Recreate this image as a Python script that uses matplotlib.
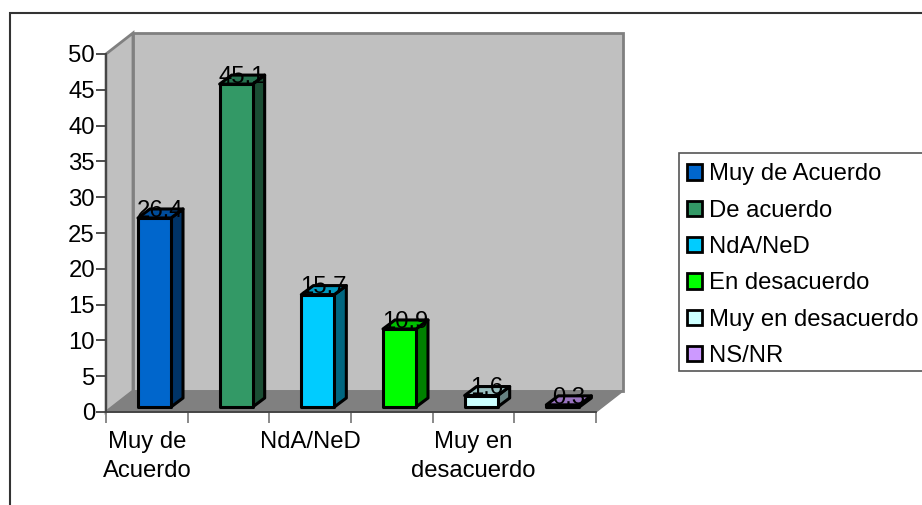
import matplotlib
matplotlib.use('Agg')
import matplotlib.pyplot as plt
from matplotlib.patches import Patch, Polygon, Rectangle

categories = ['Muy de Acuerdo', 'De acuerdo', 'NdA/NeD', 'En desacuerdo', 'Muy en desacuerdo', 'NS/NR']
values = [26.4, 45.1, 15.7, 10.9, 1.6, 0.3]
front_colors = ['#0066CC', '#339966', '#00CCFF', '#00FF00', '#CCFFFF', '#CC99FF']
side_colors = ['#003366', '#1A4D33', '#006680', '#008000', '#668080', '#664C80']
top_colors = ['#004C99', '#267350', '#0099BF', '#00BF00', '#99BFBF', '#9973BF']
y_ticks = [0, 5, 10, 15, 20, 25, 30, 35, 40, 45, 50]
x_labels = ['Muy de\nAcuerdo', 'NdA/NeD', 'Muy en\ndesacuerdo']
x_label_pos = [0.5, 2.5, 4.5]

W, H = 922, 505
plt.rcParams['font.family'] = ['Liberation Sans', 'DejaVu Sans']
FS = 17.2

fig = plt.figure(figsize=(W / 100, H / 100), dpi=100)
fig.patches.append(Rectangle((10 / W, -0.02), 1.02, (H - 13) / H + 0.02, transform=fig.transFigure,
                             facecolor='white', edgecolor='#333333', linewidth=1.5, zorder=-1))
# legend box, runs off the right edge like the original
fig.patches.append(Rectangle((679 / W, 1 - 371 / H), 0.3, 218 / H, transform=fig.transFigure,
                             facecolor='white', edgecolor='#555555', linewidth=1.2, zorder=-0.5))

# front plane of the 3d box
left, right, top, bottom = 106, 596, 54, 412
ax = fig.add_axes([left / W, 1 - bottom / H, (right - left) / W, (bottom - top) / H])
ax.patch.set_visible(False)
ax.set_xlim(0, 6)
ax.set_ylim(0, 50)
for s in ['top', 'right']:
    ax.spines[s].set_visible(False)
for s in ['left', 'bottom']:
    ax.spines[s].set_color('#404040')
    ax.spines[s].set_linewidth(1.3)
    ax.spines[s].set_zorder(6)

px_x = 6 / (right - left)
px_y = 50 / (bottom - top)
ddx, ddy = 27 * px_x, 21 * px_y

# walls and floor
ax.add_patch(Polygon([(0, 0), (ddx, ddy), (ddx, 50 + ddy), (0, 50)], closed=True, clip_on=False,
                     facecolor='#C0C0C0', edgecolor='#808080', linewidth=2, zorder=1))
ax.add_patch(Polygon([(ddx, ddy), (6 + ddx, ddy), (6 + ddx, 50 + ddy), (ddx, 50 + ddy)], closed=True, clip_on=False,
                     facecolor='#C0C0C0', edgecolor='#808080', linewidth=2, zorder=1))
ax.add_patch(Polygon([(0, 0), (6, 0), (6 + ddx, ddy), (ddx, ddy)], closed=True, clip_on=False,
                     facecolor='#808080', edgecolor='#808080', linewidth=1, zorder=2))

# bars
bar_x0 = 32 * px_x
bar_w = 33 * px_x
base = 5 * px_y
bdx, bdy = 12 * px_x, 9 * px_y
for i, v in enumerate(values):
    x0 = i + bar_x0
    x1 = x0 + bar_w
    y0 = base
    y1 = base + v
    kw = dict(closed=True, clip_on=False, edgecolor='black', linewidth=2.2, joinstyle='round', zorder=3)
    ax.add_patch(Polygon([(x1, y0), (x1 + bdx, y0 + bdy), (x1 + bdx, y1 + bdy), (x1, y1)],
                         facecolor=side_colors[i], **kw))
    ax.add_patch(Polygon([(x0, y1), (x1, y1), (x1 + bdx, y1 + bdy), (x0 + bdx, y1 + bdy)],
                         facecolor=top_colors[i], **kw))
    ax.add_patch(Polygon([(x0, y0), (x1, y0), (x1, y1), (x0, y1)],
                         facecolor=front_colors[i], **kw))
    ax.text((x0 + x1 + bdx) / 2, y1 + 1.0, str(v), ha='center', va='center', fontsize=FS,
            color='black', clip_on=False, zorder=5)

ax.set_yticks(y_ticks)
ax.tick_params(axis='y', length=7, width=1.3, color='#404040', labelsize=FS, pad=1)
ax.set_xticks(range(7))
ax.set_xticklabels([])
ax.tick_params(axis='x', which='major', length=8, width=1.3, color='#808080')
ax.set_xticks(x_label_pos, minor=True)
ax.set_xticklabels(x_labels, minor=True, fontsize=FS, linespacing=1.36)
ax.tick_params(axis='x', which='minor', length=0, pad=14)

handles = [Patch(facecolor=c, edgecolor='black', linewidth=2) for c in front_colors]
leg = ax.legend(handles, categories, loc='upper left', bbox_to_anchor=(679 / W, 1 - 155 / H),
                bbox_transform=fig.transFigure, fontsize=FS, frameon=False, borderpad=0.35, borderaxespad=0,
                handlelength=0.62, handleheight=0.62, handletextpad=0.28, labelspacing=0.6)
leg.set_zorder(7)

fig.savefig('out.png', dpi=100)
